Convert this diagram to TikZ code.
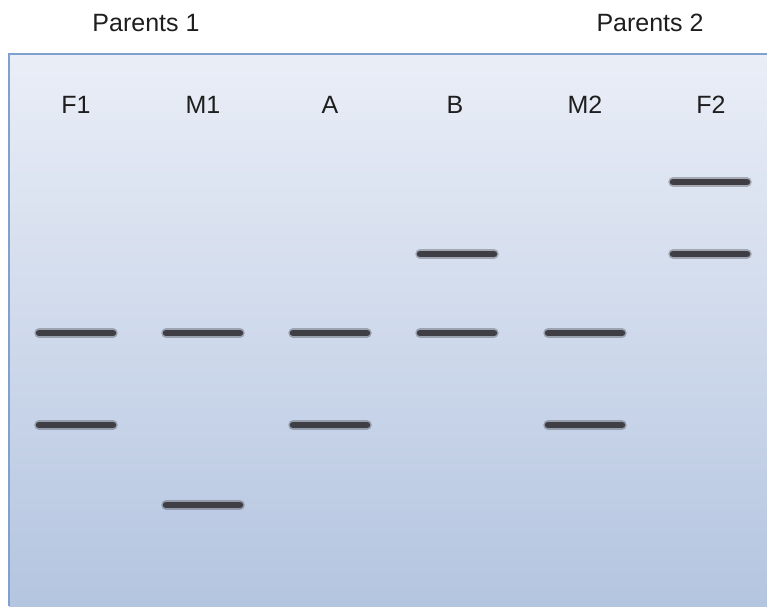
\documentclass[tikz,border=0pt]{standalone}
\usepackage{fontspec}
\setmainfont{Liberation Sans}
\usepackage{xcolor}
\usepackage{tikz}
\usetikzlibrary{positioning}
\definecolor{geltop}{RGB}{234,238,247}
\definecolor{gelbottom}{RGB}{180,197,224}
\definecolor{gelrim}{RGB}{128,160,206}
\definecolor{banddark}{RGB}{62,62,68}
\definecolor{labeltext}{RGB}{30,30,30}

\tikzset{
  lanelabel/.style={font=\fontsize{25}{30}\selectfont, text=labeltext, inner sep=0pt, anchor=base},
  band/.style={banddark, line width=6.5pt, line cap=round},
  bandglow/.style={banddark, line width=9.5pt, line cap=round, opacity=0.35}
}

\begin{document}
\begin{tikzpicture}[x=1pt, y=-1pt]
  \useasboundingbox (0,0) rectangle (767,606);
  % gel slab
  \shade[top color=geltop, bottom color=gelbottom] (9,54) rectangle (767,606);
  \draw[gelrim, line width=2.5pt] (9,606) -- (9,54) -- (767,54);
  % parents
  \node[lanelabel] (par1) at (146,31) {Parents 1};
  \node[lanelabel] (par2) at (650,31) {Parents 2};
  % lane labels
  \foreach \x/\name in {76/F1, 203/M1, 330/A, 455/B, 585/M2, 711/F2}
    \node[lanelabel] (lbl-\name) at (\x,113) {\name};
  % bands: lane x / band y
  \foreach \x/\y in {76/333, 76/425,
                     203/333, 203/505,
                     330/333, 330/425,
                     457/254, 457/333,
                     585/333, 585/425,
                     710/182, 710/254} {
    \draw[bandglow] (\x-37,\y) -- (\x+37,\y);
    \draw[band] (\x-37,\y) -- (\x+37,\y);
  }
\end{tikzpicture}
\end{document}
